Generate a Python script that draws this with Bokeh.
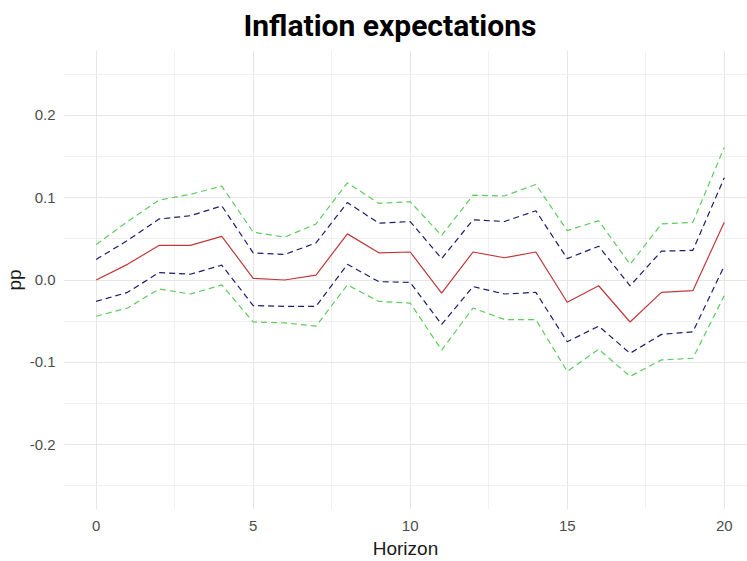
from bokeh.plotting import figure
from bokeh.models import Range1d, FixedTicker
from bokeh.embed import file_html
from bokeh.resources import INLINE

horizon = list(range(21))
irf = [0.000, 0.019, 0.042, 0.042, 0.053, 0.002, 0.000, 0.006, 0.056, 0.033, 0.034,
       -0.016, 0.034, 0.027, 0.034, -0.027, -0.007, -0.051, -0.015, -0.013, 0.070]
upper68 = [0.025, 0.048, 0.074, 0.078, 0.090, 0.033, 0.031, 0.045, 0.094, 0.069, 0.071,
           0.026, 0.073, 0.071, 0.084, 0.026, 0.041, -0.007, 0.035, 0.036, 0.124]
lower68 = [-0.026, -0.015, 0.009, 0.007, 0.018, -0.031, -0.032, -0.032, 0.019, -0.002, -0.003,
           -0.054, -0.008, -0.017, -0.015, -0.075, -0.056, -0.089, -0.066, -0.063, 0.017]
upper90 = [0.043, 0.071, 0.097, 0.104, 0.114, 0.058, 0.052, 0.068, 0.118, 0.093, 0.095,
           0.054, 0.103, 0.102, 0.116, 0.060, 0.072, 0.019, 0.068, 0.070, 0.161]
lower90 = [-0.044, -0.034, -0.011, -0.017, -0.006, -0.051, -0.052, -0.056, -0.006, -0.026, -0.028,
           -0.085, -0.034, -0.048, -0.048, -0.111, -0.084, -0.117, -0.097, -0.095, -0.019]

title_text = "Inflation expectations"
x_title = "Horizon"
y_title = "pp"
x_ticks = [0, 5, 10, 15, 20]
x_minor = [2.5, 7.5, 12.5, 17.5]
y_ticks = [-0.2, -0.1, 0.0, 0.1, 0.2]
y_minor = [-0.25, -0.15, -0.05, 0.05, 0.15, 0.25]
y_labels = {-0.2: "-0.2", -0.1: "-0.1", 0.0: "0.0", 0.1: "0.1", 0.2: "0.2"}

p = figure(width=747, height=561, output_backend="svg", toolbar_location=None,
           x_range=Range1d(-1.04, 20.74), y_range=Range1d(-0.2786, 0.2786))
p.outline_line_color = None
p.background_fill_color = "white"
p.border_fill_color = "white"
p.min_border = 0
p.min_border_left = 63
p.min_border_right = 0
p.min_border_top = 50
p.min_border_bottom = 0

p.title.text = title_text
p.title.text_font = "Roboto"
p.title.text_font_style = "bold"
p.title.text_font_size = "30px"
p.title.text_color = "black"
p.title.align = "left"
p.title.offset = 180
p.title.vertical_align = "top"
p.title.standoff = 12

for ax in (p.xaxis[0], p.yaxis[0]):
    ax.axis_line_color = None
    ax.major_tick_line_color = None
    ax.minor_tick_line_color = None
    ax.major_tick_out = 0
    ax.major_tick_in = 0
    ax.minor_tick_out = 0
    ax.minor_tick_in = 0
    ax.major_label_text_font = "Liberation Sans"
    ax.major_label_text_font_size = "15px"
    ax.major_label_text_color = "#4d4d4d"
    ax.axis_label_text_font = "Liberation Sans"
    ax.axis_label_text_font_size = "19px"
    ax.axis_label_text_font_style = "normal"
    ax.axis_label_text_color = "#1a1a1a"

p.xaxis.major_label_standoff = 11
p.yaxis.major_label_standoff = 8
p.xaxis.ticker = FixedTicker(ticks=x_ticks, minor_ticks=x_minor)
p.yaxis.ticker = FixedTicker(ticks=y_ticks, minor_ticks=y_minor)
p.yaxis.major_label_overrides = y_labels
p.xaxis.axis_label = x_title
p.xaxis.axis_label_standoff = 4
p.yaxis.axis_label = y_title
p.yaxis.axis_label_standoff = 2

for g in (p.xgrid[0], p.ygrid[0]):
    g.grid_line_color = "#e6e6e6"
    g.grid_line_width = 1
    g.minor_grid_line_color = "#f0f0f0"
    g.minor_grid_line_width = 1

green = "#5ccc5c"
navy = "#1c1c6e"
red = "#c0393a"
p.line(horizon, upper90, line_color=green, line_width=1.2, line_dash="6 4")
p.line(horizon, lower90, line_color=green, line_width=1.2, line_dash="6 4")
p.line(horizon, upper68, line_color=navy, line_width=1.2, line_dash="6 4")
p.line(horizon, lower68, line_color=navy, line_width=1.2, line_dash="6 4")
p.line(horizon, irf, line_color=red, line_width=1.2)

open("out.html", "w").write(file_html(p, INLINE))
